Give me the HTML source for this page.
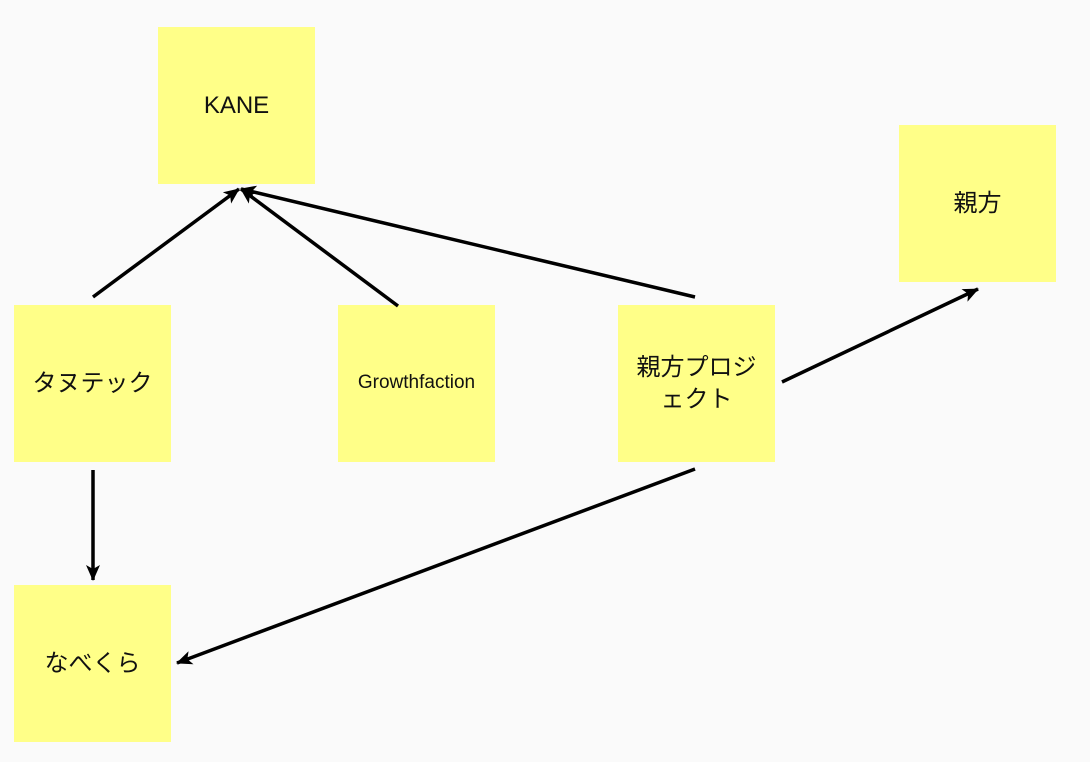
<!DOCTYPE html>
<html><head><meta charset="utf-8"><style>
body{margin:0;width:1090px;height:762px;background:#fafafa;position:relative;overflow:hidden;font-family:"Liberation Sans","Noto Sans CJK JP",sans-serif;}
.n{position:absolute;width:157px;height:157px;background:#ffff88;display:flex;align-items:center;justify-content:center;text-align:center;font-size:24px;color:#111;line-height:1.3;}
svg{position:absolute;left:0;top:0;}
</style></head><body>
<div class="n" style="left:158px;top:27px;">KANE</div>
<div class="n" style="left:899px;top:125px;">親方</div>
<div class="n" style="left:14px;top:305px;">タヌテック</div>
<div class="n" style="left:338px;top:305px;font-size:19px;">Growthfaction</div>
<div class="n" style="left:618px;top:305px;">親方プロジ<br>ェクト</div>
<div class="n" style="left:14px;top:585px;">なべくら</div>
<svg width="1090" height="762">
<defs><marker id="a" markerWidth="16" markerHeight="14" refX="15" refY="7" orient="auto" markerUnits="userSpaceOnUse"><path d="M0,0 L16,7 L0,14 L4,7 z" fill="#000"/></marker></defs>
<g stroke="#000" stroke-width="3.5" fill="none" marker-end="url(#a)">
<line x1="93" y1="297" x2="239" y2="189"/>
<line x1="398" y1="306" x2="241" y2="189"/>
<line x1="695" y1="297" x2="241" y2="189"/>
<line x1="782" y1="382" x2="978" y2="289"/>
<line x1="93" y1="470" x2="93" y2="580"/>
<line x1="695" y1="469" x2="177" y2="663"/>
</g></svg>
</body></html>
